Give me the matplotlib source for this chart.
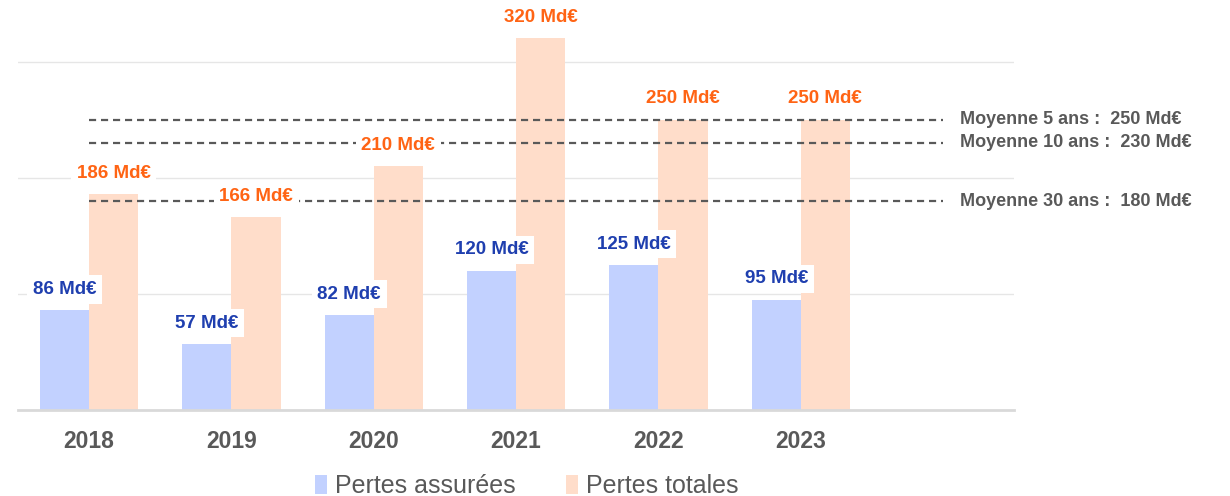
import matplotlib.pyplot as plt
import numpy as np

plt.rcParams['font.family'] = ['Liberation Sans', 'DejaVu Sans']

# donnees
annees = ['2018', '2019', '2020', '2021', '2022', '2023']
pertes_assurees = [86, 57, 82, 120, 125, 95]
pertes_totales = [186, 166, 210, 320, 250, 250]
moyennes = [250, 230, 180]
moyennes_labels = ['Moyenne 5 ans :  250 Md€', 'Moyenne 10 ans :  230 Md€', 'Moyenne 30 ans :  180 Md€']

bleu = '#C2D1FF'
orange = '#FFDDCA'
txt_bleu = '#1F3FAF'
txt_orange = '#FF6414'
gris = '#595959'

fig = plt.figure(figsize=(12.3, 4.96), dpi=100)
ax = fig.add_axes([0.0146, 0.173, 0.81, 0.827])

x = np.arange(len(annees))
w = 0.345
b1 = ax.bar(x - w / 2, pertes_assurees, w, color=bleu, label='Pertes assurées', zorder=2)
b2 = ax.bar(x + w / 2, pertes_totales, w, color=orange, label='Pertes totales', zorder=2)

# moyennes en pointilles
for v, lab in zip(moyennes, moyennes_labels):
    ax.plot([0, 6], [v, v], ls=(0, (3.2, 2.2)), color=gris, lw=1.6, zorder=3)
    ax.text(6.12, v, lab, ha='left', va='center', fontsize=13, fontweight='bold',
            color=gris, clip_on=False)

# etiquettes des valeurs
box = dict(facecolor='white', edgecolor='none', boxstyle='square,pad=0.3')
for xi, v in zip(x - w / 2, pertes_assurees):
    ax.annotate(f'{v} Md€', (xi, v), xytext=(0, 15), textcoords='offset points',
                ha='center', va='center', fontsize=13.5, fontweight='bold',
                color=txt_bleu, bbox=box, zorder=5)
for xi, v in zip(x + w / 2, pertes_totales):
    ax.annotate(f'{v} Md€', (xi, v), xytext=(0, 15), textcoords='offset points',
                ha='center', va='center', fontsize=13.5, fontweight='bold',
                color=txt_orange, bbox=box, zorder=5)

ax.set_xlim(-0.5, 6.5)
ax.set_ylim(0, 353)
ax.set_yticks([100, 200, 300])
ax.yaxis.grid(True, color='#E6E6E6', lw=1, zorder=0)
ax.set_axisbelow(True)
ax.tick_params(axis='y', left=False, labelleft=False)
ax.set_xticks(x)
ax.set_xticklabels(annees, fontsize=16.5, fontweight='bold', color=gris)
ax.tick_params(axis='x', length=0, pad=14)
for s in ['top', 'right', 'left']:
    ax.spines[s].set_visible(False)
ax.spines['bottom'].set_color('#D9D9D9')
ax.spines['bottom'].set_linewidth(2)

leg = fig.legend(handles=[b1, b2], loc='lower center', bbox_to_anchor=(0.428, -0.05),
                 ncol=2, frameon=False, fontsize=18, handlelength=0.5, handleheight=0.8,
                 handletextpad=0.3, columnspacing=2.0)
for t in leg.get_texts():
    t.set_color(gris)

plt.savefig('out.png', dpi=100)
